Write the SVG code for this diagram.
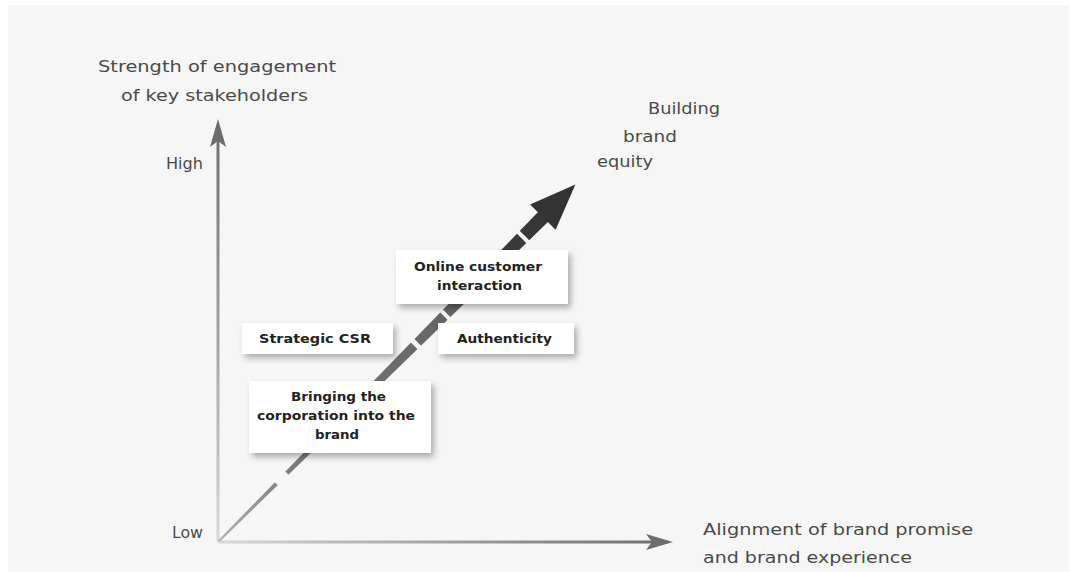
<svg xmlns="http://www.w3.org/2000/svg" width="1069" height="572" viewBox="0 0 1069 572">
<defs>
<style>
.lbl{font-family:"DejaVu Sans","Liberation Sans",sans-serif;font-size:16px;fill:#4a4a4a;}
.box{fill:#ffffff;filter:url(#sh);}
.bt{font-family:"DejaVu Sans","Liberation Sans",sans-serif;font-size:13px;font-weight:bold;fill:#222;text-anchor:start;}
.gap{fill:#f6f6f6;}
</style>
<filter id="sh" x="-10%" y="-20%" width="125%" height="150%">
<feDropShadow dx="3" dy="4" stdDeviation="3" flood-color="#000" flood-opacity="0.3"/>
</filter>
<linearGradient id="vg" gradientUnits="userSpaceOnUse" x1="218" y1="542" x2="218" y2="119">
<stop offset="0" stop-color="#d8d8d8"/>
<stop offset="1" stop-color="#6c6c6c"/>
</linearGradient>
<linearGradient id="hg" gradientUnits="userSpaceOnUse" x1="218" y1="542" x2="673" y2="542">
<stop offset="0" stop-color="#d8d8d8"/>
<stop offset="1" stop-color="#6c6c6c"/>
</linearGradient>
<linearGradient id="dg" gradientUnits="userSpaceOnUse" x1="0" y1="0" x2="504" y2="0">
<stop offset="0" stop-color="#b0b0b0"/>
<stop offset="0.2" stop-color="#7c7c7c"/>
<stop offset="0.65" stop-color="#646464"/>
<stop offset="0.8" stop-color="#3a3a3a"/>
<stop offset="1" stop-color="#333"/>
</linearGradient>
</defs>
<rect x="0" y="0" width="1069" height="572" fill="#ffffff"/>
<rect x="8" y="5" width="1061" height="567" fill="#f6f6f6"/>

<g id="connectors">
<g id="y-axis">
<line x1="218" y1="542" x2="218" y2="140" stroke="url(#vg)" stroke-width="3"/>
<polygon points="218,119 226,147 218,141 210,147" fill="#6c6c6c"/>
</g>
<g id="x-axis">
<line x1="218" y1="542" x2="652" y2="542" stroke="url(#hg)" stroke-width="3"/>
<polygon points="673,542 646,534 652,542 646,550" fill="#6c6c6c"/>
</g>
<g id="brand-equity-arrow" transform="translate(219 541) rotate(-45)">
<polygon points="0,-1 460,-7 460,7 0,1" fill="url(#dg)"/>
<polygon points="458,-18 504,0 458,18" fill="#333"/>
<rect class="gap" x="81" y="-10" width="15" height="20"/>
<rect class="gap" x="276" y="-10" width="5" height="20"/>
<rect class="gap" x="318" y="-10" width="4" height="20"/>
<rect class="gap" x="428" y="-10" width="4" height="20"/>
</g>
</g>

<g id="label-y">
<text class="lbl" x="98" y="72" textLength="238" lengthAdjust="spacingAndGlyphs">Strength of engagement</text>
<text class="lbl" x="121" y="101" textLength="187" lengthAdjust="spacingAndGlyphs">of key stakeholders</text>
</g>
<g id="label-high"><text class="lbl" x="166" y="169" textLength="37" lengthAdjust="spacingAndGlyphs">High</text></g>
<g id="label-low"><text class="lbl" x="172" y="538" textLength="31" lengthAdjust="spacingAndGlyphs">Low</text></g>
<g id="label-x">
<text class="lbl" x="703" y="535" textLength="270" lengthAdjust="spacingAndGlyphs">Alignment of brand promise</text>
<text class="lbl" x="703" y="563" textLength="209" lengthAdjust="spacingAndGlyphs">and brand experience</text>
</g>
<g id="label-equity">
<text class="lbl" x="648" y="114" textLength="72" lengthAdjust="spacingAndGlyphs">Building</text>
<text class="lbl" x="623" y="142" textLength="54" lengthAdjust="spacingAndGlyphs">brand</text>
<text class="lbl" x="597" y="167" textLength="56" lengthAdjust="spacingAndGlyphs">equity</text>
</g>

<g id="node-online">
<rect class="box" x="396" y="250" width="172" height="54"/>
<text class="bt" x="414" y="271" textLength="128" lengthAdjust="spacingAndGlyphs">Online customer</text>
<text class="bt" x="437" y="290" textLength="85" lengthAdjust="spacingAndGlyphs">interaction</text>
</g>
<g id="node-csr">
<rect class="box" x="242" y="323" width="151" height="31"/>
<text class="bt" x="259" y="343" textLength="112" lengthAdjust="spacingAndGlyphs">Strategic CSR</text>
</g>
<g id="node-authenticity">
<rect class="box" x="438" y="323" width="136" height="31"/>
<text class="bt" x="457" y="343" textLength="95" lengthAdjust="spacingAndGlyphs">Authenticity</text>
</g>
<g id="node-bringing">
<rect class="box" x="249" y="381" width="182" height="72"/>
<text class="bt" x="291" y="401" textLength="95" lengthAdjust="spacingAndGlyphs">Bringing the</text>
<text class="bt" x="257" y="420" textLength="158" lengthAdjust="spacingAndGlyphs">corporation into the</text>
<text class="bt" x="315" y="439" textLength="44" lengthAdjust="spacingAndGlyphs">brand</text>
</g>
</svg>
